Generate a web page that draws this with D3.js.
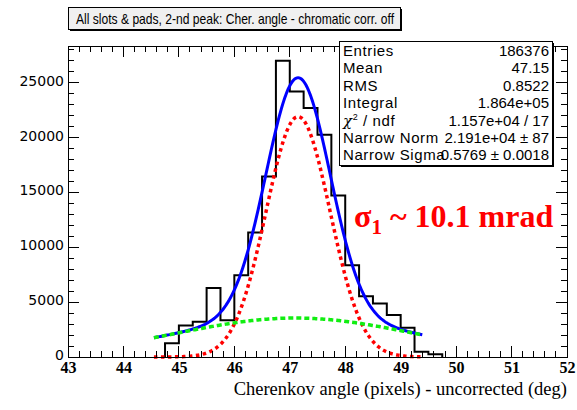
<!DOCTYPE html>
<html>
<head>
<meta charset="utf-8">
<script src="https://cdn.jsdelivr.net/npm/d3@7"></script>
<style>
  html, body { margin: 0; padding: 0; background: #fff; }
  svg { display: block; }
</style>
</head>
<body>
<svg id="chart" width="577" height="410"></svg>
<script>
// Histogram bins (lower edge, deg) and their contents
const binLow = [44.75, 45.00, 45.25, 45.50, 45.75, 46.00, 46.25, 46.50, 46.75, 47.00,
                47.25, 47.50, 47.75, 48.00, 48.25, 48.50, 48.75, 49.00, 49.25, 49.50];
const binCounts = [1250, 2880, 3210, 6300, 3360, 7450, 11340, 16450, 27000, 24200,
                   22700, 20250, 14730, 8360, 5545, 4880, 3820, 2670, 480, 245];
const binWidth = 0.25;

// Fit: narrow gaussian + wide gaussian background
const narrowFit = [21910, 47.15, 0.5769];   // norm, mean, sigma
const wideFit = [3550, 47.1, 2.15];         // norm, mean, sigma
const fitRange = [44.55, 49.4];

// Axis ticks
const xTickValues = [43, 44, 45, 46, 47, 48, 49, 50, 51, 52];
const yTickValues = [0, 5000, 10000, 15000, 20000, 25000];

// Statistics box rows
const statLabels = ["Entries", "Mean", "RMS", "Integral", "χ2 / ndf", "Narrow Norm", "Narrow Sigma"];
const statValues = ["186376", "47.15", "0.8522", "1.864e+05", "1.157e+04 / 17", "2.191e+04 ± 87", "0.5769 ± 0.0018"];

const titleText = "All slots & pads, 2-nd peak: Cher. angle - chromatic corr. off";
const xAxisTitle = "Cherenkov angle (pixels) - uncorrected (deg)";

const svg = d3.select("#chart");
const frame = { left: 68, right: 567, top: 46, bottom: 357 };

const x = d3.scaleLinear().domain([43, 52]).range([frame.left, frame.right]);
const y = d3.scaleLinear().domain([0, 28350]).range([frame.bottom, frame.top]);

const gauss = (p, v) => p[0] * Math.exp(-0.5 * Math.pow((v - p[1]) / p[2], 2));

// ---- histogram outline ----
const histPts = [[x(binLow[0]), y(0)]];
binLow.forEach((lo, i) => {
  histPts.push([x(lo), y(binCounts[i])]);
  histPts.push([x(lo + binWidth), y(binCounts[i])]);
});
histPts.push([x(binLow[binLow.length - 1] + binWidth), y(0)]);
svg.append("path")
  .attr("d", d3.line()(histPts))
  .attr("fill", "none")
  .attr("stroke", "#000")
  .attr("stroke-width", 2);

// ---- fit curves ----
const samples = d3.range(fitRange[0], fitRange[1] + 1e-9, 0.02);
const curve = f => d3.line().x(v => x(v)).y(v => y(f(v)))(samples);

svg.append("path")
  .attr("d", curve(v => gauss(narrowFit, v) + gauss(wideFit, v)))
  .attr("fill", "none").attr("stroke", "#0000ff").attr("stroke-width", 3);

svg.append("path")
  .attr("d", curve(v => gauss(narrowFit, v)))
  .attr("fill", "none").attr("stroke", "#ff0000").attr("stroke-width", 3.5)
  .attr("stroke-dasharray", "3.5,3.5");

svg.append("path")
  .attr("d", curve(v => gauss(wideFit, v)))
  .attr("fill", "none").attr("stroke", "#11ee11").attr("stroke-width", 3.5)
  .attr("stroke-dasharray", "5,3");

// ---- frame and ticks ----
const axisG = svg.append("g").attr("shape-rendering", "crispEdges");
axisG.append("rect")
  .attr("x", frame.left).attr("y", frame.top)
  .attr("width", frame.right - frame.left).attr("height", frame.bottom - frame.top)
  .attr("fill", "none").attr("stroke", "#000").attr("stroke-width", 1);

const xMinor = d3.range(43, 52.0001, 0.2).map(v => +v.toFixed(2));
xMinor.forEach(v => {
  const major = Math.abs(v - Math.round(v)) < 1e-6;
  const len = major ? 11 : 6;
  axisG.append("line").attr("x1", x(v)).attr("x2", x(v))
    .attr("y1", frame.bottom).attr("y2", frame.bottom - len).attr("stroke", "#000");
  axisG.append("line").attr("x1", x(v)).attr("x2", x(v))
    .attr("y1", frame.top).attr("y2", frame.top + len).attr("stroke", "#000");
});
const yMinor = d3.range(0, 28001, 1000);
yMinor.forEach(v => {
  const major = v % 5000 === 0;
  const len = major ? 11 : 6;
  axisG.append("line").attr("y1", y(v)).attr("y2", y(v))
    .attr("x1", frame.left).attr("x2", frame.left + len).attr("stroke", "#000");
  axisG.append("line").attr("y1", y(v)).attr("y2", y(v))
    .attr("x1", frame.right).attr("x2", frame.right - len).attr("stroke", "#000");
});

// tick labels via d3 axes (lines hidden, frame ticks drawn above)
const xAxis = svg.append("g")
  .attr("transform", `translate(0,${frame.bottom})`)
  .call(d3.axisBottom(x).tickValues(xTickValues).tickSize(0).tickPadding(5).tickFormat(d3.format("d")));
xAxis.select(".domain").remove();
xAxis.selectAll("text")
  .attr("font-family", "'Liberation Serif', 'Times New Roman', serif")
  .attr("font-weight", "bold").attr("font-size", 16).attr("fill", "#000");

const yAxis = svg.append("g")
  .attr("transform", `translate(${frame.left},-2)`)
  .call(d3.axisLeft(y).tickValues(yTickValues).tickSize(0).tickPadding(4).tickFormat(d3.format("d")));
yAxis.select(".domain").remove();
yAxis.selectAll("text")
  .attr("font-family", "'DejaVu Sans', sans-serif")
  .attr("font-size", 14).attr("fill", "#000");

// x axis title
svg.append("text")
  .attr("x", frame.right).attr("y", 395)
  .attr("text-anchor", "end")
  .attr("font-family", "'Liberation Serif', 'Times New Roman', serif")
  .attr("font-size", 18.5).attr("fill", "#000")
  .text(xAxisTitle);

// ---- title box ----
const tb = { x: 68, y: 7, w: 332, h: 22 };
svg.append("rect").attr("x", tb.x + 2).attr("y", tb.y + 2).attr("width", tb.w).attr("height", tb.h).attr("fill", "#000");
svg.append("rect").attr("x", tb.x).attr("y", tb.y).attr("width", tb.w).attr("height", tb.h)
  .attr("fill", "#f0f0f0").attr("stroke", "#000").attr("stroke-width", 1).attr("shape-rendering", "crispEdges");
svg.append("text")
  .attr("x", 76).attr("y", 23.5)
  .attr("font-family", "'Liberation Sans', Arial, sans-serif").attr("font-size", 14.5)
  .attr("textLength", 318).attr("lengthAdjust", "spacingAndGlyphs")
  .attr("fill", "#000")
  .text(titleText);

// ---- statistics box ----
const sb = { x: 339, y: 41, w: 213, h: 124 };
svg.append("rect").attr("x", sb.x + 2).attr("y", sb.y + 2).attr("width", sb.w).attr("height", sb.h).attr("fill", "#000");
svg.append("rect").attr("x", sb.x).attr("y", sb.y).attr("width", sb.w).attr("height", sb.h)
  .attr("fill", "#fff").attr("stroke", "#000").attr("stroke-width", 1).attr("shape-rendering", "crispEdges");

const rowY = i => 56 + i * 17.4;
const statFont = "'Liberation Sans', Arial, sans-serif";
statLabels.forEach((lab, i) => {
  const t = svg.append("text")
    .attr("x", 343).attr("y", rowY(i))
    .attr("font-family", statFont).attr("font-size", 15)
    .attr("letter-spacing", 0.6)
    .attr("fill", "#000");
  if (lab.startsWith("χ2")) {
    t.append("tspan").attr("font-family", "'DejaVu Serif', serif").attr("font-style", "italic").text("χ");
    t.append("tspan").attr("font-size", 9).attr("dy", -6).text("2");
    t.append("tspan").attr("dy", 6).text(lab.slice(2));
  } else {
    t.text(lab);
  }
  svg.append("text")
    .attr("x", 549).attr("y", rowY(i))
    .attr("text-anchor", "end")
    .attr("font-family", statFont).attr("font-size", 15)
    .attr("fill", "#000")
    .text(statValues[i]);
});

// ---- resolution annotation ----
const ann = svg.append("text")
  .attr("x", 354).attr("y", 227)
  .attr("font-family", "'Liberation Serif', 'Times New Roman', serif")
  .attr("font-weight", "bold").attr("font-size", 32).attr("fill", "#ff0000");
ann.append("tspan").text("σ");
ann.append("tspan").attr("font-size", 21).attr("dy", 7).text("1");
ann.append("tspan").attr("dy", -7).text(" ~ 10.1 mrad");
</script>
</body>
</html>
